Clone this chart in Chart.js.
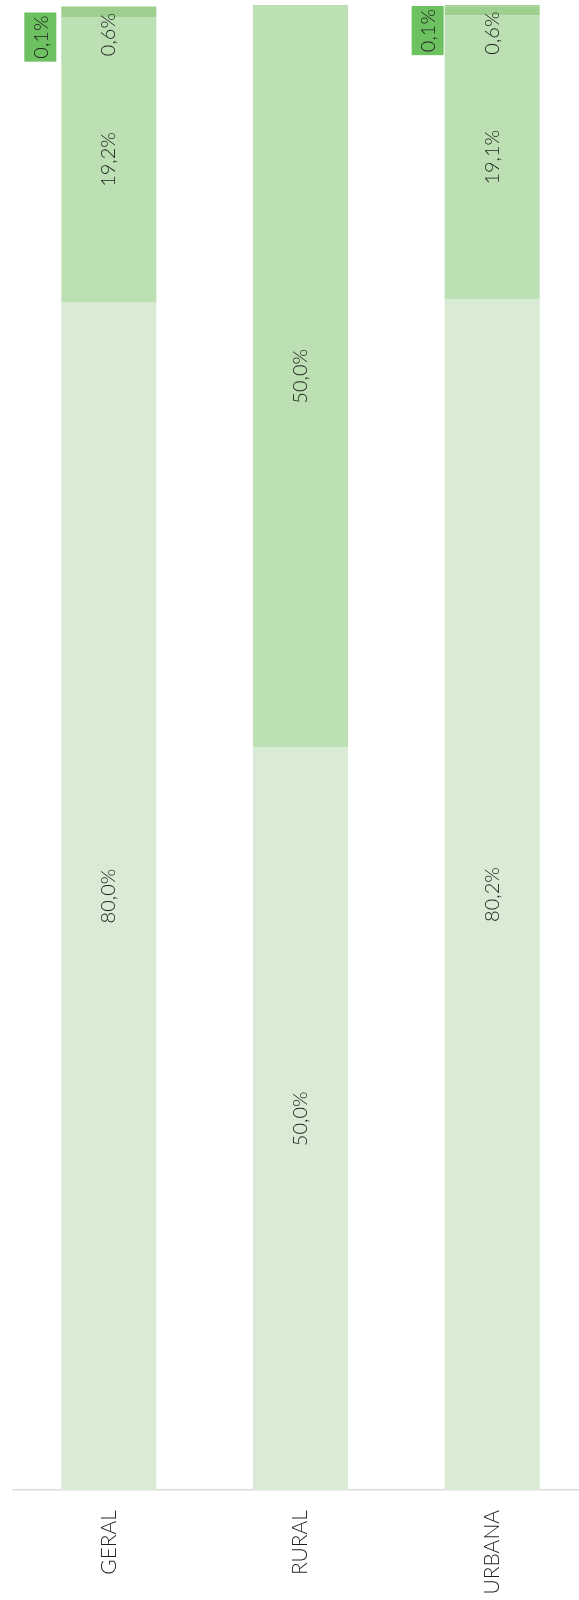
<!DOCTYPE html>
<html lang="pt-BR">
<head>
<meta charset="utf-8">
<title>Distribuição por área</title>
<script src="https://cdn.jsdelivr.net/npm/chart.js@4.4.1/dist/chart.umd.min.js"></script>
<style>
  html, body { margin: 0; padding: 0; background: #ffffff; overflow: hidden; }
  #wrap { position: relative; width: 600px; height: 1600px; }
  #grafico { display: block; width: 600px; height: 1600px; }
</style>
</head>
<body>
<div id="wrap"><canvas id="grafico" width="600" height="1600"></canvas></div>
<script>
// Categorias e percentuais de cada faixa (empilhadas de baixo para cima)
const categorias = ['GERAL', 'RURAL', 'URBANA'];
const faixa1 = [80.0, 50.0, 80.2];
const faixa2 = [19.2, 50.0, 19.1];
const faixa3 = [0.6, 0, 0.6];
const faixa4 = [0.1, 0, 0.1];

const FONTE = '300 20px Lato, "Open Sans", sans-serif';
const COR_TEXTO = '#1e1e1e';

function fmt(v) {
  return v.toFixed(1).replace('.', ',') + '%';
}

// Rótulos de valor girados, desenhados a partir dos elementos de barra
const rotulosPlugin = {
  id: 'rotulos',
  afterDatasetsDraw(chart) {
    const ctx = chart.ctx;
    ctx.save();
    ctx.font = FONTE;
    chart.data.datasets.forEach((ds, di) => {
      const meta = chart.getDatasetMeta(di);
      meta.data.forEach((el, i) => {
        const v = ds.data[i];
        if (!v) return;
        const txt = fmt(v);
        const tw = ctx.measureText(txt).width;
        const topo = Math.min(el.y, el.base);
        const fundo = Math.max(el.y, el.base);
        const modo = ds.modoRotulo;
        if (modo === 'centro') {
          ctx.save();
          ctx.translate(el.x, (topo + fundo) / 2);
          ctx.rotate(-Math.PI / 2);
          ctx.textAlign = 'center';
          ctx.textBaseline = 'middle';
          ctx.fillStyle = COR_TEXTO;
          ctx.fillText(txt, 0, 0);
          ctx.restore();
        } else if (modo === 'topo') {
          ctx.save();
          ctx.translate(el.x, topo + 5);
          ctx.rotate(-Math.PI / 2);
          ctx.textAlign = 'right';
          ctx.textBaseline = 'middle';
          ctx.fillStyle = COR_TEXTO;
          ctx.fillText(txt, 0, 0);
          ctx.restore();
        } else if (modo === 'caixa') {
          const desl = ds.deslocCaixa[i];
          const larg = 32, alt = tw + 6;
          const direita = el.x - el.width / 2 - desl.dx;
          const cima = topo + desl.dy;
          ctx.fillStyle = ds.corCaixa;
          ctx.fillRect(direita - larg, cima, larg, alt);
          ctx.save();
          ctx.translate(direita - larg / 2, cima + alt / 2);
          ctx.rotate(-Math.PI / 2);
          ctx.textAlign = 'center';
          ctx.textBaseline = 'middle';
          ctx.fillStyle = COR_TEXTO;
          ctx.fillText(txt, 0, 1);
          ctx.restore();
        }
      });
    });
    ctx.restore();
  }
};

const comum = { categoryPercentage: 1.0, barPercentage: 0.496, borderWidth: 0 };

new Chart(document.getElementById('grafico'), {
  type: 'bar',
  data: {
    labels: categorias,
    datasets: [
      Object.assign({ label: 'Faixa 1', data: faixa1, backgroundColor: '#d9ebd4', modoRotulo: 'centro' }, comum),
      Object.assign({ label: 'Faixa 2', data: faixa2, backgroundColor: '#bcdfb3', modoRotulo: 'centro' }, comum),
      Object.assign({ label: 'Faixa 3', data: faixa3, backgroundColor: '#9dcf8e', modoRotulo: 'topo' }, comum),
      Object.assign({ label: 'Faixa 4', data: faixa4, backgroundColor: '#9dcf8e', corCaixa: '#6dc161',
        modoRotulo: 'caixa',
        deslocCaixa: [{ dx: 5, dy: 6 }, { dx: 0, dy: 0 }, { dx: 1, dy: 1 }] }, comum)
    ]
  },
  options: {
    responsive: false,
    animation: false,
    devicePixelRatio: 1,
    layout: { padding: { top: 5, left: 13, right: 12, bottom: 0 } },
    plugins: { legend: { display: false }, tooltip: { enabled: false } },
    scales: {
      x: {
        stacked: true,
        grid: { display: false },
        border: { display: true, color: '#dcdcdc', width: 1.5 },
        ticks: {
          minRotation: 90, maxRotation: 90, padding: 12,
          color: COR_TEXTO,
          font: { family: 'Lato, "Open Sans", sans-serif', size: 21, weight: 300 }
        },
        afterFit(scale) { scale.height = 110; }
      },
      y: {
        stacked: true, display: false, min: 0, max: 100
      }
    }
  },
  plugins: [rotulosPlugin]
});
</script>
</body>
</html>
